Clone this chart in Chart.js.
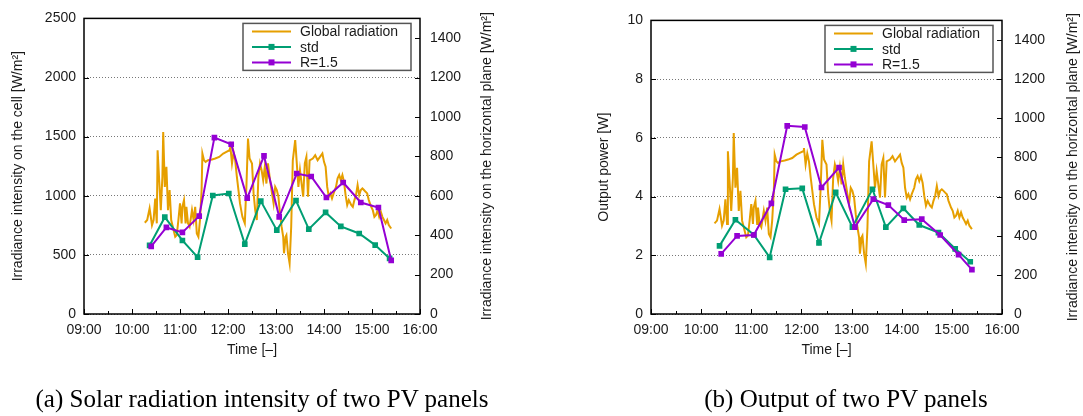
<!DOCTYPE html>
<html>
<head>
<meta charset="utf-8">
<script src="https://cdn.jsdelivr.net/npm/chart.js@4.4.1/dist/chart.umd.min.js"></script>
<style>
    html, body { margin: 0; padding: 0; background: #fff; overflow: hidden; }
    #wrap { position: relative; width: 1083px; height: 416px; }
    .panel { position: absolute; top: 0; height: 416px; }
    #panelA { left: 0; width: 540px; }
    #panelB { left: 540px; width: 543px; }
    .caption {
        position: absolute; top: 385px; transform: translateX(-50%);
        font: 25px "Liberation Serif", "Times New Roman", serif; color: #000; white-space: nowrap;
    }
</style>
</head>
<body>
<div id="wrap">
    <div class="panel" id="panelA"><canvas id="chartA"></canvas></div>
    <div class="panel" id="panelB"><canvas id="chartB"></canvas></div>
    <div class="caption" style="left:262px">(a) Solar radiation intensity of two PV panels</div>
    <div class="caption" style="left:846px">(b) Output of two PV panels</div>
</div>
<script>
'use strict';

// x axis tick labels
const timeTicks = ['09:00', '10:00', '11:00', '12:00', '13:00', '14:00', '15:00', '16:00'];

// measurement times of the two panels
const stdTimes = ['10:22', '10:41', '11:03', '11:22', '11:41', '12:01', '12:21', '12:41',
    '13:01', '13:25', '13:41', '14:02', '14:21', '14:44', '15:04', '15:22'];
const r15Times = ['10:24', '10:43', '11:03', '11:24', '11:43', '12:04', '12:24', '12:45',
    '13:04', '13:26', '13:44', '14:03', '14:24', '14:46', '15:08', '15:24'];

// (a) irradiance on the cell [W/m2]
const stdIrradiance = [580, 819, 622, 481, 1002, 1019, 591, 955, 709, 960, 718, 859, 741, 681, 583, 470];
const r15Irradiance = [572, 732, 690, 828, 1492, 1436, 980, 1337, 822, 1188, 1163, 985, 1112, 943, 901, 453];

// (b) output power [W]
const stdPower = [2.32, 3.21, 2.70, 1.93, 4.25, 4.28, 2.42, 4.14, 2.96, 4.25, 2.96, 3.60, 3.03, 2.77, 2.22, 1.78];
const r15Power = [2.05, 2.66, 2.69, 3.77, 6.41, 6.37, 4.31, 4.99, 2.96, 3.91, 3.71, 3.20, 3.23, 2.69, 2.02, 1.51];

// global radiation on the horizontal plane [W/m2]
const radiationTimes = [
    '10:16', '10:19', '10:22', '10:25', '10:27', '10:29', '10:31', '10:32', '10:34', '10:36',
    '10:38', '10:39', '10:41', '10:43', '10:45', '10:47', '10:49', '10:51', '10:54', '10:56',
    '10:58', '11:00', '11:02', '11:03', '11:05', '11:07', '11:08', '11:10', '11:12', '11:15',
    '11:17', '11:19', '11:21', '11:23', '11:25', '11:27', '11:28', '11:30', '11:32', '11:35',
    '11:40', '11:44', '11:49', '11:54', '11:58', '12:02', '12:03', '12:05', '12:07', '12:09',
    '12:11', '12:15', '12:18', '12:21', '12:23', '12:25', '12:27', '12:30', '12:32', '12:34',
    '12:36', '12:38', '12:40', '12:42', '12:44', '12:46', '12:48', '12:50', '12:52', '12:55',
    '12:57', '12:59', '13:01', '13:03', '13:05', '13:07', '13:09', '13:10', '13:12', '13:13',
    '13:15', '13:17', '13:19', '13:21', '13:24', '13:26', '13:28', '13:30', '13:32', '13:34',
    '13:36', '13:38', '13:40', '13:42', '13:46', '13:49', '13:52', '13:55', '13:58', '14:00',
    '14:02', '14:04', '14:06', '14:08', '14:10', '14:12', '14:15', '14:17', '14:19', '14:21',
    '14:23', '14:25', '14:27', '14:29', '14:31', '14:34', '14:36', '14:38', '14:40', '14:42',
    '14:44', '14:46', '14:48', '14:50', '14:52', '14:54', '14:56', '14:59', '15:01', '15:03',
    '15:05', '15:07', '15:09', '15:11', '15:13', '15:15', '15:17', '15:19', '15:21', '15:24'
];
const globalRadiation = [
    463, 477, 536, 451, 477, 586, 460, 831, 679, 527,
    696, 924, 645, 747, 527, 629, 477, 443, 392, 401,
    477, 561, 460, 544, 578, 460, 544, 460, 443, 527,
    477, 544, 409, 392, 477, 629, 814, 780, 772, 780,
    784, 789, 797, 814, 823, 831, 848, 764, 820, 780,
    700, 561, 493, 460, 645, 890, 789, 764, 612, 527,
    477, 696, 764, 730, 679, 747, 662, 764, 696, 612,
    561, 645, 629, 595, 510, 443, 392, 308, 392, 400,
    308, 257, 443, 780, 882, 764, 645, 730, 662, 595,
    764, 797, 595, 780, 789, 806, 780, 797, 814, 772,
    747, 645, 595, 612, 586, 612, 645, 688, 705, 679,
    705, 671, 603, 553, 578, 553, 544, 578, 603, 654,
    603, 629, 637, 629, 620, 612, 578, 544, 527, 493,
    502, 527, 493, 519, 493, 477, 460, 477, 451, 434
];

const FONT = { family: '"Liberation Sans", Arial, sans-serif', size: 14 };
const TEXT = '#1a1a1a';

const toMinutes = t => {
    const [h, m] = t.split(':').map(Number);
    return h * 60 + m;
};

const series = (times, values) => times.map((t, i) => ({ x: toMinutes(t), y: values[i] }));

// gnuplot-like frame: border, inward ticks, boxed key and the right axis title
const framePlugin = {
    id: 'frame',
    afterDatasetsDraw(chart, args, opts) {
        const { ctx, chartArea: a, scales } = chart;
        ctx.save();

        ctx.strokeStyle = '#000';
        ctx.lineWidth = 1;
        ctx.beginPath();
        for (let m = scales.x.min; m <= scales.x.max; m += 30) {
            const x = Math.round(scales.x.getPixelForValue(m)) + 0.5;
            ctx.moveTo(x, a.bottom);
            ctx.lineTo(x, a.bottom - (m % 60 === 0 ? 5 : 3));
        }
        scales.y.ticks.forEach(t => {
            const y = Math.round(scales.y.getPixelForValue(t.value)) + 0.5;
            ctx.moveTo(a.left, y);
            ctx.lineTo(a.left + 5, y);
        });
        scales.y2.ticks.forEach(t => {
            const y = Math.round(scales.y2.getPixelForValue(t.value)) + 0.5;
            ctx.moveTo(a.right, y);
            ctx.lineTo(a.right - 5, y);
        });
        ctx.stroke();

        ctx.lineWidth = 1.5;
        ctx.strokeRect(a.left, a.top, a.right - a.left, a.bottom - a.top);

        // key
        const boxW = 168;
        const boxL = a.right - 9 - boxW;
        const boxT = a.top + 5;
        ctx.strokeStyle = '#555';
        ctx.lineWidth = 1.5;
        ctx.strokeRect(boxL, boxT, boxW, 47);
        ctx.font = `${FONT.size}px ${FONT.family}`;
        ctx.textBaseline = 'middle';
        ctx.textAlign = 'left';
        chart.data.datasets.forEach((ds, i) => {
            const y = boxT + 8 + i * 15.5;
            ctx.strokeStyle = ds.borderColor;
            ctx.lineWidth = 2;
            ctx.beginPath();
            ctx.moveTo(boxL + 9, y);
            ctx.lineTo(boxL + 48, y);
            ctx.stroke();
            if (ds.pointRadius > 0) {
                ctx.fillStyle = ds.borderColor;
                ctx.fillRect(boxL + 25.5, y - 3, 6, 6);
            }
            ctx.fillStyle = TEXT;
            ctx.fillText(ds.label, boxL + 57, y + 1);
        });

        // right axis title, reading upwards
        ctx.translate(opts.rightTitleX, (a.top + a.bottom) / 2);
        ctx.rotate(-Math.PI / 2);
        ctx.textAlign = 'center';
        ctx.fillStyle = TEXT;
        ctx.fillText(opts.rightTitle, 0, 0);

        ctx.restore();
    }
};

function makeChart(canvasId, cfg) {
    return new Chart(document.getElementById(canvasId), {
        type: 'line',
        data: {
            datasets: [
                {
                    label: 'Global radiation',
                    data: series(radiationTimes, globalRadiation),
                    yAxisID: 'y2',
                    borderColor: '#E69F00',
                    borderWidth: 2,
                    pointRadius: 0,
                    order: 3
                },
                {
                    label: 'std',
                    data: series(stdTimes, cfg.std),
                    yAxisID: 'y',
                    borderColor: '#009E73',
                    backgroundColor: '#009E73',
                    borderWidth: 2,
                    pointStyle: 'rect',
                    pointRadius: 4,
                    pointBorderWidth: 0,
                    order: 2
                },
                {
                    label: 'R=1.5',
                    data: series(r15Times, cfg.r15),
                    yAxisID: 'y',
                    borderColor: '#9400D3',
                    backgroundColor: '#9400D3',
                    borderWidth: 2,
                    pointStyle: 'rect',
                    pointRadius: 4,
                    pointBorderWidth: 0,
                    order: 1
                }
            ]
        },
        options: {
            responsive: true,
            maintainAspectRatio: false,
            animation: false,
            events: [],
            layout: { padding: { top: 18, left: 0, right: 0, bottom: 0 } },
            plugins: {
                legend: { display: false },
                tooltip: { enabled: false },
                frame: { rightTitle: cfg.rightTitle, rightTitleX: cfg.rightTitleX }
            },
            scales: {
                x: {
                    type: 'linear',
                    min: toMinutes(timeTicks[0]),
                    max: toMinutes(timeTicks[timeTicks.length - 1]),
                    afterBuildTicks(scale) {
                        scale.ticks = timeTicks.map(t => ({ value: toMinutes(t) }));
                    },
                    afterFit(scale) {
                        scale.height = 102;
                    },
                    ticks: {
                        callback: (v, i) => timeTicks[i],
                        autoSkip: false,
                        maxRotation: 0,
                        padding: 8,
                        font: FONT,
                        color: TEXT
                    },
                    grid: { display: false, drawTicks: false },
                    border: { display: false },
                    title: {
                        display: true,
                        text: 'Time [–]',
                        font: FONT,
                        color: TEXT,
                        padding: { top: 0, bottom: 57 }
                    }
                },
                y: {
                    position: 'left',
                    min: 0,
                    max: cfg.yMax,
                    afterFit(scale) {
                        scale.width = cfg.yWidth;
                    },
                    ticks: {
                        stepSize: cfg.yStep,
                        callback: v => String(v),
                        padding: 8,
                        font: FONT,
                        color: TEXT
                    },
                    grid: { color: '#777', lineWidth: 1, drawTicks: false },
                    border: { display: false, dash: [1, 2] },
                    title: {
                        display: true,
                        text: cfg.leftTitle,
                        font: FONT,
                        color: TEXT,
                        padding: { top: cfg.leftTitlePad, bottom: 0 }
                    }
                },
                y2: {
                    position: 'right',
                    min: 0,
                    max: 1500,
                    afterBuildTicks(scale) {
                        scale.ticks = scale.ticks.filter(t => t.value % 200 === 0);
                    },
                    afterFit(scale) {
                        scale.width = cfg.y2Width;
                    },
                    ticks: {
                        stepSize: 200,
                        callback: v => String(v),
                        padding: cfg.y2Pad,
                        font: FONT,
                        color: TEXT
                    },
                    grid: { display: false, drawTicks: false },
                    border: { display: false }
                }
            }
        },
        plugins: [framePlugin]
    });
}

makeChart('chartA', {
    std: stdIrradiance,
    r15: r15Irradiance,
    yMax: 2500,
    yStep: 500,
    yWidth: 84,
    y2Width: 120,
    y2Pad: 10,
    leftTitle: 'Irradiance intensity on the cell [W/m²]',
    leftTitlePad: 10,
    rightTitle: 'Irradiance intensity on the horizontal plane [W/m²]',
    rightTitleX: 487
});

makeChart('chartB', {
    std: stdPower,
    r15: r15Power,
    yMax: 10,
    yStep: 2,
    yWidth: 111,
    y2Width: 81,
    y2Pad: 12,
    leftTitle: 'Output power [W]',
    leftTitlePad: 56,
    rightTitle: 'Irradiance intensity on the horizontal plane [W/m²]',
    rightTitleX: 533
});
</script>
</body>
</html>
